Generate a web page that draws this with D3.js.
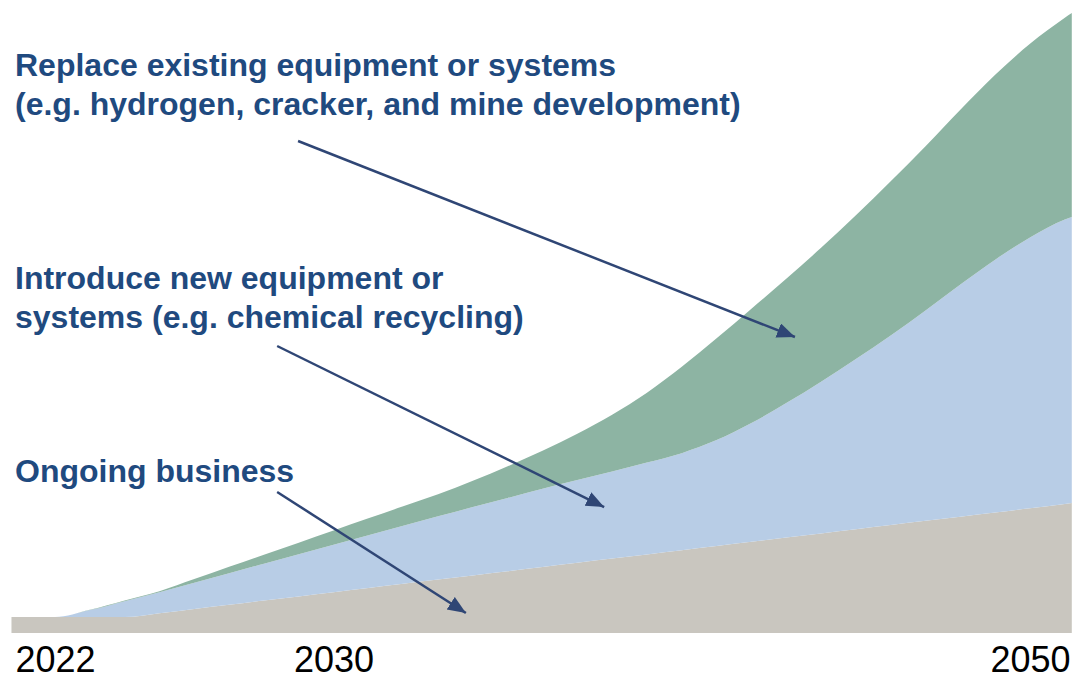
<!DOCTYPE html>
<html>
<head>
<meta charset="utf-8">
<script src="https://cdn.jsdelivr.net/npm/d3@7"></script>
<style>
  html, body { margin: 0; padding: 0; background: #ffffff; }
  svg { display: block; }
</style>
</head>
<body>
<svg id="chart" width="1072" height="680"></svg>
<script>
// ---- Data ----
const years = [2020.75, 2021, 2022, 2023, 2024, 2025, 2026, 2027, 2028, 2029, 2030,
  2031, 2032, 2033, 2034, 2035, 2036, 2037, 2038, 2039, 2040,
  2041, 2042, 2043, 2044, 2045, 2046, 2047, 2048, 2049, 2050, 2051, 2051.2];

const ongoingBusiness = [2.58, 2.58, 2.58, 2.58, 2.58, 3.19, 3.87, 4.55, 5.23, 5.90, 6.58,
  7.26, 7.94, 8.61, 9.29, 9.97, 10.65, 11.32, 12.00, 12.68, 13.35,
  14.03, 14.71, 15.39, 16.06, 16.74, 17.42, 18.10, 18.77, 19.45, 20.13, 20.81, 20.97];

const newEquipment = [0, 0, 0, 1.11, 2.56, 3.40, 4.24, 5.10, 5.95, 6.81, 7.66,
  8.52, 9.37, 10.21, 11.02, 11.81, 12.60, 13.34, 14.06, 14.81, 15.66,
  17.08, 19.15, 21.69, 24.48, 27.44, 30.55, 33.90, 37.42, 40.77, 43.65, 45.87, 46.13];

const replaceEquipment = [0, 0, 0, 0.05, 0.11, 0.16, 0.58, 1.02, 1.44, 1.85, 2.29,
  2.71, 3.13, 3.56, 4.24, 5.11, 6.15, 7.47, 9.13, 11.26, 13.92,
  16.42, 18.44, 20.05, 21.58, 23.19, 24.89, 26.50, 28.19, 29.81, 31.26, 32.55, 32.90];

const seriesKeys = ["ongoing", "newEquip", "replace"];
const seriesColors = ["#c9c6bf", "#b8cde6", "#8db4a3"];

const tickYears = [2022, 2030, 2050];

// Annotation texts (lines) and arrows in data space [year, value]
const labelLines = [
  ["Replace existing equipment or systems", "(e.g. hydrogen, cracker, and mine development)"],
  ["Introduce new equipment or", "systems (e.g. chemical recycling)"],
  ["Ongoing business"]
];
const arrowFrom = [[2028.98, 79.35], [2028.38, 46.29], [2028.38, 22.74]];
const arrowTo   = [[2043.25, 47.74], [2037.77, 20.32], [2033.80, 3.23]];

// ---- Layout ----
const svg = d3.select("#chart");
const x = d3.scaleLinear().domain([2022, 2050]).range([55, 1030]);
const y = d3.scaleLinear().domain([0, 100]).range([633, 13]);

const table = years.map((yr, i) => ({
  year: yr,
  ongoing: ongoingBusiness[i],
  newEquip: newEquipment[i],
  replace: replaceEquipment[i]
}));

const stack = d3.stack().keys(seriesKeys);
const layers = stack(table);

const area = d3.area()
  .x(d => x(d.data.year))
  .y0(d => y(d[0]))
  .y1(d => y(d[1]))
  .curve(d3.curveMonotoneX);

svg.append("g")
  .selectAll("path")
  .data(layers)
  .join("path")
  .attr("d", area)
  .attr("fill", (d, i) => seriesColors[i])
  .attr("stroke", "none");

// x axis labels
const axis = d3.axisBottom(x).tickValues(tickYears).tickFormat(d3.format("d")).tickSize(0).tickPadding(0);
const gx = svg.append("g").attr("transform", "translate(0,672)").call(axis);
gx.select(".domain").remove();
gx.selectAll("text")
  .attr("dy", "0")
  .attr("font-family", "'Liberation Sans', Arial, sans-serif")
  .attr("font-size", 36)
  .attr("fill", "#000000");

// arrows
const defs = svg.append("defs");
defs.append("marker")
  .attr("id", "arrowhead")
  .attr("markerUnits", "userSpaceOnUse")
  .attr("markerWidth", 20)
  .attr("markerHeight", 16)
  .attr("refX", 18)
  .attr("refY", 7.5)
  .attr("orient", "auto")
  .append("path")
  .attr("d", "M0,0 L18,7.5 L0,15 Z")
  .attr("fill", "#2f4675");

svg.append("g")
  .selectAll("line")
  .data(arrowFrom.map((f, i) => [f, arrowTo[i]]))
  .join("line")
  .attr("x1", d => x(d[0][0]))
  .attr("y1", d => y(d[0][1]))
  .attr("x2", d => x(d[1][0]))
  .attr("y2", d => y(d[1][1]))
  .attr("stroke", "#2f4675")
  .attr("stroke-width", 2.5)
  .attr("marker-end", "url(#arrowhead)");

// labels
const labelBaselines = [76, 289, 482];
const lineGap = 39;
const lg = svg.append("g")
  .attr("font-family", "'Liberation Sans', Arial, sans-serif")
  .attr("font-weight", "bold")
  .attr("font-size", 32)
  .attr("fill", "#1f4a7f");

labelLines.forEach((lines, i) => {
  const t = lg.append("text").attr("x", 15).attr("y", labelBaselines[i]);
  lines.forEach((ln, j) => {
    t.append("tspan").attr("x", 15).attr("y", labelBaselines[i] + j * lineGap).text(ln);
  });
});
</script>
</body>
</html>
